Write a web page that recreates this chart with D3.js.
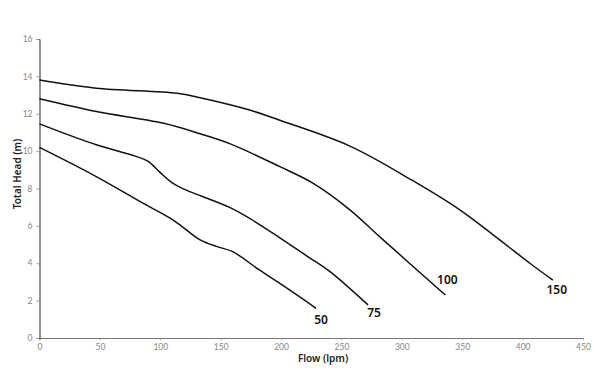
<!DOCTYPE html>
<html><head><meta charset="utf-8">
<script src="https://cdn.jsdelivr.net/npm/d3@7"></script>
<style>body{margin:0;background:#fff}svg{display:block}</style>
</head><body>
<svg id="c" width="600" height="373"></svg>
<script>
const xTicks = [0,50,100,150,200,250,300,350,400,450];
const yTicks = [0,2,4,6,8,10,12,14,16];
const seriesNames = ["50","75","100","150"];
const flow50  = [0,47,86,111,133,147,160,182,207,229];
const head50  = [10.2,8.64,7.2,6.3,5.25,4.89,4.62,3.64,2.57,1.59];
const flow75  = [0,47,80,90,100,110,120,135,157,174,199,222,240,272];
const head75  = [11.46,10.34,9.72,9.45,8.85,8.3,7.95,7.57,7.0,6.4,5.36,4.36,3.58,1.77];
const flow100 = [0,47,102,133,158,199,226,257,282,336];
const head100 = [12.8,12.12,11.5,10.93,10.39,9.17,8.3,6.86,5.4,2.3];
const flow150 = [0,47,114,133,174,199,257,308,348,381,406,425];
const head150 = [13.8,13.37,13.1,12.86,12.2,11.65,10.27,8.46,6.86,5.25,4.0,3.1];
const flows = [flow50,flow75,flow100,flow150];
const heads = [head50,head75,head100,head150];

const svg = d3.select("#c");
const x = d3.scaleLinear().domain([0,450]).range([39.5,583]);
const y = d3.scaleLinear().domain([0,16]).range([338,39]);

const xa = svg.append("g").attr("transform","translate(0,338)")
  .call(d3.axisBottom(x).tickValues(xTicks).tickSize(2).tickPadding(4));
const ya = svg.append("g").attr("transform","translate(39.5,0)")
  .call(d3.axisLeft(y).tickValues(yTicks).tickSize(3).tickPadding(4));
[xa,ya].forEach(a=>{
  a.selectAll("text").attr("font-family","Lato, sans-serif").attr("font-size",8.5).attr("fill","#888");
  a.selectAll("line").attr("stroke","#999");
});
xa.select(".domain").attr("stroke","#777");
ya.select(".domain").attr("stroke","#222");

const labelOffset = [[5,12],[6,8],[2,-15],[4,10]];
const line = d3.line().x(d=>x(d[0])).y(d=>y(d[1])).curve(d3.curveCatmullRom.alpha(0.5));
flows.forEach((f,i)=>{
  const pts = f.map((v,j)=>[v,heads[i][j]]);
  svg.append("path").attr("d",line(pts)).attr("fill","none").attr("stroke","#111").attr("stroke-width",1.5);
  const last = pts[pts.length-1];
  svg.append("text").attr("x",x(last[0])+labelOffset[i][0]).attr("y",y(last[1])+labelOffset[i][1])
    .attr("dy","0.35em")
    .attr("text-anchor","middle").attr("font-family","'Noto Sans', sans-serif").attr("font-weight","600")
    .attr("font-size",12).attr("fill","#111").text(seriesNames[i]);
});

svg.append("text").attr("x",323).attr("y",362).attr("text-anchor","middle")
  .attr("font-family","'Noto Sans', sans-serif").attr("font-weight","600").attr("font-size",10).attr("fill","#222").text("Flow (lpm)");
svg.append("text").attr("transform","translate(21,174) rotate(-90)").attr("text-anchor","middle")
  .attr("font-family","'Noto Sans', sans-serif").attr("font-weight","600").attr("font-size",10).attr("fill","#222").text("Total Head (m)");
</script>
</body></html>
